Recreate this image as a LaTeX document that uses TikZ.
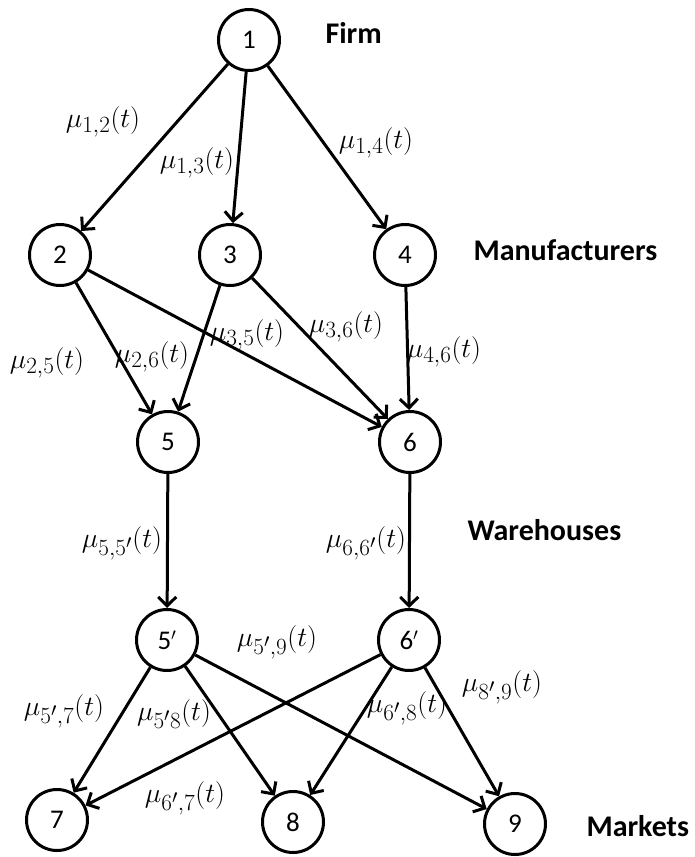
\documentclass[tikz,border=0pt]{standalone}
\usepackage{graphicx}
\usepackage{fontspec}
\setmainfont{Carlito}
\usetikzlibrary{arrows.meta}
% math rate label, enlarged past the largest fixed math size
\newcommand{\ratelabel}[1]{\scalebox{1.12}{$#1$}}
\begin{document}
\begin{tikzpicture}[x=1pt,y=-1pt,
  vertex/.style={circle,draw,line width=3pt,minimum size=61pt,inner sep=0pt,
    font=\fontsize{27}{31}\selectfont},
  flow/.style={line width=3pt,-{Straight Barb[length=9pt,width=18pt]}},
  rate/.style={font=\fontsize{24.88}{29}\selectfont},
  tier/.style={anchor=west,font=\fontsize{30}{34}\selectfont\bfseries}]
\useasboundingbox (0,0) rectangle (695,857);

% nodes of the supply chain
\node[vertex] (n1)  at (249,40)  {1};
\node[vertex] (n2)  at (60,255)  {2};
\node[vertex] (n3)  at (230,255) {3};
\node[vertex] (n4)  at (405,255) {4};
\node[vertex] (n5)  at (168,442) {5};
\node[vertex] (n6)  at (410,442) {6};
\node[vertex] (n5p) at (167,640) {5$'$};
\node[vertex] (n6p) at (409,640) {6$'$};
\node[vertex] (n7)  at (57,820)  {7};
\node[vertex] (n8)  at (293,822) {8};
\node[vertex] (n9)  at (515,824) {9};

% tier names
\node[tier] (firm)  at (322,33)  {Firm};
\node[tier] (manu)  at (470,250) {Manufacturers};
\node[tier] (ware)  at (464,530) {Warehouses};
\node[tier] (mark)  at (583,826) {Markets};

% links
\draw[flow] (n1) -- (n2);
\draw[flow] (n1) -- (n3);
\draw[flow] (n1) -- (n4);
\draw[flow] (n2) -- (n5);
\draw[flow] (n2) -- (n6);
\draw[flow] (n3) -- (n5);
\draw[flow] (n3) -- (n6);
\draw[flow] (n4) -- (n6);
\draw[flow] (n5) -- (n5p);
\draw[flow] (n6) -- (n6p);
\draw[flow] (n5p) -- (n7);
\draw[flow] (n5p) -- (n8);
\draw[flow] (n5p) -- (n9);
\draw[flow] (n6p) -- (n7);
\draw[flow] (n6p) -- (n8);
\draw[flow] (n6p) -- (n9);

% link rates
\node[rate] (r12)  at (103,122) {\ratelabel{\mu_{1,2}(t)}};
\node[rate] (r13)  at (197,163) {\ratelabel{\mu_{1,3}(t)}};
\node[rate] (r14)  at (376,143) {\ratelabel{\mu_{1,4}(t)}};
\node[rate] (r25)  at (47,363)  {\ratelabel{\mu_{2,5}(t)}};
\node[rate] (r26)  at (152,357) {\ratelabel{\mu_{2,6}(t)}};
\node[rate] (r35)  at (247,335) {\ratelabel{\mu_{3,5}(t)}};
\node[rate] (r36)  at (346,327) {\ratelabel{\mu_{3,6}(t)}};
\node[rate] (r46)  at (444,352) {\ratelabel{\mu_{4,6}(t)}};
\node[rate] (r55)  at (122,543) {\ratelabel{\mu_{5,5'}(t)}};
\node[rate] (r66)  at (366,543) {\ratelabel{\mu_{6,6'}(t)}};
\node[rate] (r59)  at (277,642) {\ratelabel{\mu_{5',9}(t)}};
\node[rate] (r57)  at (64,711)  {\ratelabel{\mu_{5',7}(t)}};
\node[rate] (r58)  at (174,714) {\ratelabel{\mu_{5'8}(t)}};
\node[rate] (r68)  at (407,708) {\ratelabel{\mu_{6',8}(t)}};
\node[rate] (r89)  at (502,687) {\ratelabel{\mu_{8',9}(t)}};
\node[rate] (r67)  at (185,798) {\ratelabel{\mu_{6',7}(t)}};
\end{tikzpicture}
\end{document}
